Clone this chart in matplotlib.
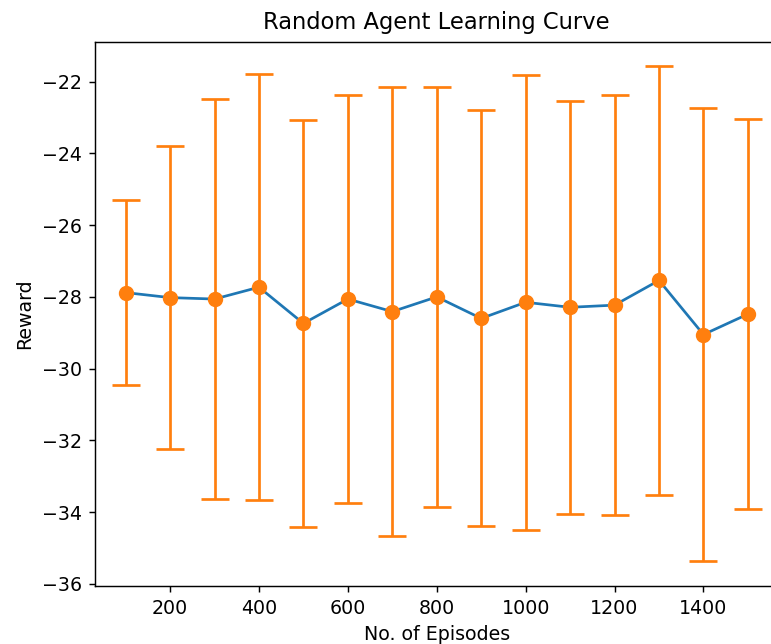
import numpy as np
import matplotlib
matplotlib.use("Agg")
import matplotlib.pyplot as plt

# --- data ------------------------------------------------------------------
episodes = [100, 200, 300, 400, 500, 600, 700, 800, 900, 1000, 1100, 1200, 1300, 1400, 1500]
mean_reward = [-27.88, -28.02, -28.06, -27.73, -28.74, -28.06, -28.41, -28.00,
               -28.60, -28.15, -28.29, -28.23, -27.54, -29.05, -28.48]
std_reward = [2.57, 4.22, 5.57, 5.94, 5.68, 5.68, 6.26, 5.85,
              5.80, 6.34, 5.75, 5.85, 5.97, 6.32, 5.43]

DPI = 130
fig = plt.figure(figsize=(771 / DPI, 644 / DPI), dpi=DPI)
# axes run past the right edge: the reference is a cropped screenshot
ax = fig.add_axes([94.5 / 771, 58 / 644, 684.5 / 771, 544.5 / 644])

ax.plot(episodes, mean_reward, color="C0", lw=1.5)
ax.errorbar(episodes, mean_reward, yerr=std_reward, fmt="o", color="C1",
            ms=7.5, capsize=7.5, elinewidth=1.5, capthick=1.5)

ax.set_title("Random Agent Learning Curve", fontsize=12.5, pad=7)
ax.set_xlabel("No. of Episodes", fontsize=10.5)
ax.set_ylabel("Reward", fontsize=10.5)
ax.tick_params(labelsize=10.5)

fig.savefig("out.png", dpi=DPI)
